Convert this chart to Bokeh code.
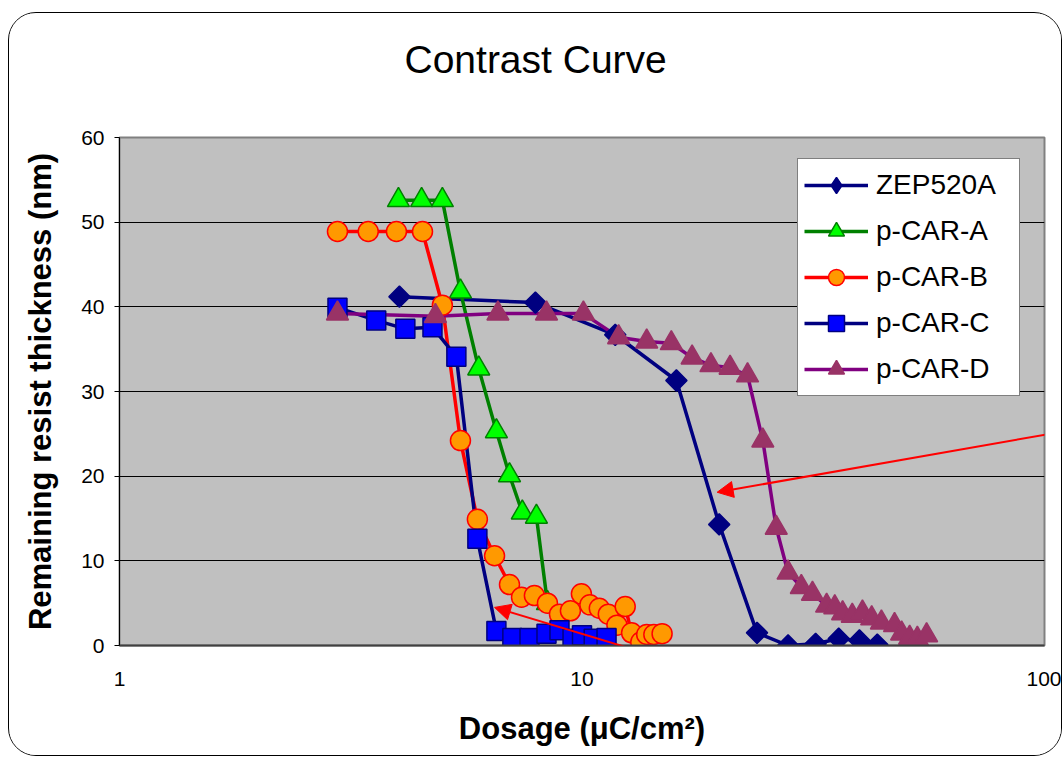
import math
from bokeh.plotting import figure
from bokeh.models import (Legend, LegendItem, FixedTicker, Title, Arrow, NormalHead, Range1d)
from bokeh.embed import file_html
from bokeh.resources import INLINE

# ---------------- data ----------------
title_text = "Contrast Curve"
x_label = "Dosage (\u03bcC/cm\u00b2)"
y_label = "Remaining resist thickness (nm)"

x_ticks = [1, 10, 100]
x_tick_labels = ["1", "10", "100"]
y_ticks = [0, 10, 20, 30, 40, 50, 60]

series_names = ["ZEP520A", "p-CAR-A", "p-CAR-B", "p-CAR-C", "p-CAR-D"]

zep_x = [4.03, 7.93, 11.8, 16.0, 19.8, 23.9, 27.9, 32.0, 35.9, 39.8, 43.5]
zep_y = [41.2, 40.5, 36.7, 31.3, 14.3, 1.5, 0.0, 0.2, 0.8, 0.6, 0.1]

pA_x = [4.01, 4.50, 4.99, 5.46, 5.98, 6.53, 6.97, 7.43, 7.97, 8.42, 9.49, 11.4]
pA_y = [52.6, 52.6, 52.6, 41.8, 32.7, 25.3, 20.1, 15.7, 15.2, 5.0, 0.0, 0.0]

pB_x = [2.96, 3.45, 3.97, 4.52, 4.99, 5.46, 5.94, 6.47, 6.97, 7.40, 7.89, 8.42, 8.94,
        9.44, 9.97, 10.4, 10.9, 11.4, 11.9, 12.4, 12.8, 13.4, 13.8, 14.3, 14.9]
pB_y = [48.9, 48.9, 48.9, 48.9, 40.2, 24.2, 14.9, 10.6, 7.2, 5.7, 5.9, 5.0, 3.7,
        4.1, 6.1, 4.8, 4.4, 3.7, 2.4, 4.6, 1.5, 0.4, 1.3, 1.3, 1.4]

pC_x = [2.96, 3.59, 4.15, 4.75, 5.35, 5.94, 6.53, 7.07, 7.70, 8.38, 8.94, 9.54, 10.0, 10.6, 11.3]
pC_y = [39.9, 38.4, 37.4, 37.6, 34.1, 12.6, 1.7, 0.9, 0.9, 1.4, 1.8, 0.8, 1.2, 0.8, 0.9]

pD_x = [2.96, 4.82, 6.58, 8.38, 10.07, 12.0, 13.8, 15.6, 17.3, 19.0, 20.9, 22.8, 24.6,
        26.3, 27.9, 29.8, 31.5, 33.8, 35.2, 36.6, 38.4, 40.4, 42.3, 44.4, 47.4, 49.1,
        51.1, 53.1, 55.6]
pD_y = [39.2, 38.9, 39.2, 39.2, 39.2, 36.4, 35.9, 35.7, 34.0, 33.1, 32.8, 31.9, 24.2,
        13.9, 8.6, 6.9, 6.1, 4.7, 4.5, 3.8, 3.5, 3.9, 3.2, 2.7, 2.4, 1.4,
        0.9, 0.8, 1.2]

# annotation arrow targets (data coordinates)
arrow_tip_x = [19.6, 6.47]
arrow_tip_y = [18.1, 4.5]

# ---------------- styles ----------------
FONT = "Liberation Sans"
styles = [
    dict(marker="square", angle=math.pi / 4, size=15, fill="#000080", edge="#000080", line="#000080",
         legend_marker="diamond"),
    dict(marker="triangle", angle=0, size=22, fill="#00FF00", edge="#008000", line="#008000",
         legend_marker=None),
    dict(marker="circle", angle=0, size=20, fill="#FF9900", edge="#FF0000", line="#FF0000",
         legend_marker=None),
    dict(marker="square", angle=0, size=19, fill="#0000FF", edge="#000080", line="#000080",
         legend_marker=None),
    dict(marker="triangle", angle=0, size=22, fill="#993366", edge="#993366", line="#800080",
         legend_marker=None),
]
data = [(zep_x, zep_y), (pA_x, pA_y), (pB_x, pB_y), (pC_x, pC_y), (pD_x, pD_y)]

p = figure(frame_width=925, frame_height=508,
           x_axis_type="log", x_range=Range1d(1, 100), y_range=Range1d(0, 60),
           output_backend="svg", toolbar_location=None,
           min_border_left=110, min_border_right=17, min_border_top=124, min_border_bottom=110,
           title=None)

# outer rounded chart border (CSS on the figure element)
p.styles = {"margin-left": "8px", "margin-top": "12px",
            "border": "1.5px solid black", "border-radius": "28px",
            "overflow": "hidden"}

# (invisible, white-on-white) spacer next to the plot frame, then the title above it
p.add_layout(Title(text=" ", text_font=FONT, text_font_size="2px", text_color="white",
                   standoff=51), "above")
p.add_layout(Title(text=title_text, text_font=FONT, text_font_size="39px",
                   text_font_style="normal", text_color="black",
                   align="left", offset=285, vertical_align="top", standoff=0), "above")

p.background_fill_color = "#C0C0C0"
p.border_fill_color = "white"
p.outline_line_color = "#808080"
p.outline_line_width = 2

p.xgrid.visible = False
p.ygrid.ticker = FixedTicker(ticks=y_ticks)
p.ygrid.grid_line_color = "black"
p.ygrid.grid_line_width = 1

# axes
p.xaxis.ticker = FixedTicker(ticks=x_ticks, minor_ticks=[])
p.xaxis.major_label_overrides = {t: l for t, l in zip(x_ticks, x_tick_labels)}
p.xaxis.major_tick_out = 0
p.xaxis.major_tick_in = 0
p.xaxis.minor_tick_out = 0
p.xaxis.minor_tick_in = 0
p.xaxis.axis_line_color = "#404040"
p.xaxis.axis_line_width = 2
p.xaxis.major_label_standoff = 26
p.xaxis.axis_label = x_label
p.xaxis.axis_label_standoff = 22

p.yaxis.ticker = FixedTicker(ticks=y_ticks, minor_ticks=[])
p.yaxis.major_tick_out = 5
p.yaxis.major_tick_in = 0
p.yaxis.major_tick_line_color = "black"
p.yaxis.axis_line_color = "black"
p.yaxis.major_label_standoff = 10
p.yaxis.axis_label = y_label
p.yaxis.axis_label_standoff = 20

for ax in (p.xaxis[0], p.yaxis[0]):
    ax.major_label_text_font = FONT
    ax.major_label_text_font_size = "21px"
    ax.major_label_text_color = "black"
    ax.axis_label_text_font = FONT
    ax.axis_label_text_font_size = "31px"
    ax.axis_label_text_font_style = "bold"
    ax.axis_label_text_color = "black"

# lines first, then markers (series order)
line_rs = []
for (xs, ys), st in zip(data, styles):
    line_rs.append(p.line(xs, ys, line_color=st["line"], line_width=3.5))

mark_rs = []
swatch_rs = []
for (xs, ys), st in zip(data, styles):
    sw = None
    if st["legend_marker"]:
        # narrower diamond, fully covered by the rotated square; gives the legend its diamond
        sw = p.scatter(xs, ys, marker=st["legend_marker"], size=17,
                       fill_color=st["fill"], line_color=st["edge"], line_width=1.5)
    swatch_rs.append(sw)
    mark_rs.append(p.scatter(xs, ys, marker=st["marker"], angle=st["angle"], size=st["size"],
                             fill_color=st["fill"], line_color=st["edge"], line_width=1.5))

legend_items = [LegendItem(label=n, renderers=[l, sw if sw is not None else m])
                for n, l, m, sw in zip(series_names, line_rs, mark_rs, swatch_rs)]

legend = Legend(items=legend_items, location=(678, 249))
legend.label_text_font = FONT
legend.label_text_font_size = "28px"
legend.label_text_color = "black"
legend.glyph_width = 64
legend.glyph_height = 40
legend.label_height = 40
legend.label_width = 137
legend.label_standoff = 8
legend.spacing = 6
legend.padding = 6
legend.margin = 0
legend.border_line_color = "black"
legend.border_line_width = 1
legend.background_fill_color = "white"
legend.background_fill_alpha = 1
p.add_layout(legend)

# red annotation arrows
arrow_starts = [(1065, 416), (995, 748)]
for (sx, sy), tx, ty in zip(arrow_starts, arrow_tip_x, arrow_tip_y):
    p.add_layout(Arrow(x_start=sx, y_start=sy, start_units="canvas",
                       x_end=tx, y_end=ty, end_units="data",
                       line_color="#FF0000", line_width=2,
                       end=NormalHead(size=16, fill_color="#FF0000", line_color="#FF0000")))

open("out.html", "w").write(file_html(p, INLINE))
